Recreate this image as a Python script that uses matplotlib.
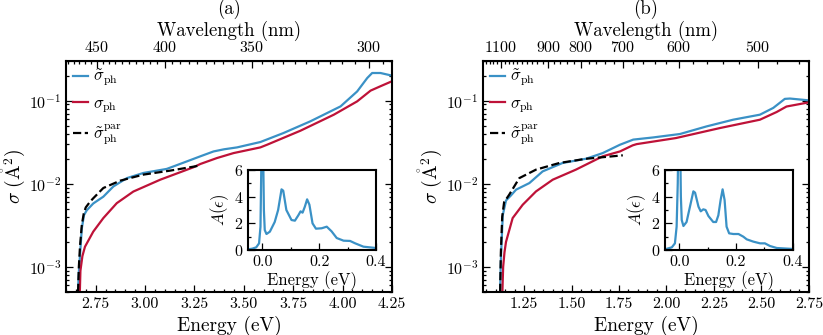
import numpy as np
import matplotlib
matplotlib.use('Agg')
from matplotlib import pyplot as plt
from matplotlib.ticker import MultipleLocator, FixedLocator, NullFormatter

plt.rcParams['font.family'] = 'serif'
plt.rcParams['font.serif'] = ['cmr10']
plt.rcParams['mathtext.fontset'] = 'cm'
plt.rcParams['axes.formatter.use_mathtext'] = True
plt.rcParams['axes.unicode_minus'] = False

HC = 1239.84  # eV nm
BLUE = '#3a91c6'
RED = '#be1238'

# ---- panel (a) ----
Ea_tilde = [2.661, 2.664, 2.671, 2.680, 2.691, 2.705, 2.738, 2.789, 2.840, 2.908, 2.992, 3.110,
            3.212, 3.280, 3.347, 3.400, 3.466, 3.584, 3.700, 3.837, 3.990, 4.074, 4.125, 4.150,
            4.192, 4.250]
sa_tilde = [5e-4, 8e-4, 1.4e-3, 2.9e-3, 4.2e-3, 4.8e-3, 5.8e-3, 7.0e-3, 9.3e-3, 0.0117, 0.0135,
            0.0151, 0.0186, 0.0214, 0.0245, 0.0260, 0.0274, 0.0318, 0.0407, 0.0564, 0.0853, 0.129,
            0.187, 0.215, 0.215, 0.200]
Ea_ph = [2.670, 2.673, 2.683, 2.696, 2.738, 2.789, 2.857, 2.941, 3.077, 3.245, 3.280, 3.364, 3.448,
         3.584, 3.618, 3.787, 3.956, 4.074, 4.142, 4.192, 4.250]
sa_ph = [5e-4, 9e-4, 1.35e-3, 1.75e-3, 2.66e-3, 3.87e-3, 5.85e-3, 8.07e-3, 0.0112, 0.0158, 0.0173,
         0.0204, 0.0234, 0.0274, 0.0295, 0.0435, 0.0678, 0.098, 0.132, 0.149, 0.171]
Ea_par = [2.661, 2.665, 2.671, 2.680, 2.690, 2.700, 2.722, 2.738, 2.789, 2.874, 2.992, 3.127, 3.254,
          3.270]
sa_par = [5e-4, 1e-3, 1.8e-3, 3.2e-3, 4.4e-3, 5.2e-3, 6.1e-3, 6.7e-3, 8.9e-3, 0.0109, 0.0129,
          0.0144, 0.0162, 0.0165]
eps_a = [-0.05, -0.035, -0.021, -0.011, -0.006, -0.002, 0.0, 0.003, 0.006, 0.009, 0.015, 0.027,
         0.044, 0.056, 0.068, 0.074, 0.085, 0.103, 0.115, 0.127, 0.135, 0.142, 0.150, 0.158,
         0.166, 0.177, 0.189, 0.209, 0.227, 0.244, 0.262, 0.286, 0.309, 0.327, 0.356, 0.400]
A_a = [0.05, 0.1, 0.2, 0.5, 1.75, 8, 15, 8, 3, 1.5, 1.2, 1.375, 2.1, 3.0, 4.55, 4.45, 3.0, 2.25,
       2.2, 2.6, 2.9, 2.8, 3.25, 3.8, 3.4, 2.0, 1.6, 1.63, 1.75, 1.4, 0.9, 0.7, 0.68, 0.5, 0.25,
       0.15]
wl_ticks_a = [450, 400, 350, 300]

# ---- panel (b) ----
Eb_tilde = [1.124, 1.127, 1.129, 1.138, 1.155, 1.180, 1.208, 1.278, 1.348, 1.453, 1.576, 1.664,
            1.755, 1.825, 1.930, 2.071, 2.211, 2.351, 2.492, 2.562, 2.623, 2.650, 2.746]
sb_tilde = [5e-4, 1e-3, 1.4e-3, 4.2e-3, 6.3e-3, 7.2e-3, 8.5e-3, 0.0102, 0.0141, 0.0178, 0.0200,
            0.0234, 0.0295, 0.0340, 0.0361, 0.0397, 0.0490, 0.0590, 0.0678, 0.0817, 0.105, 0.106,
            0.101]
Eb_ph = [1.136, 1.140, 1.147, 1.155, 1.190, 1.243, 1.313, 1.401, 1.523, 1.664, 1.755, 1.822, 1.843,
         2.050, 2.281, 2.492, 2.580, 2.632, 2.746]
sb_ph = [5e-4, 1e-3, 1.5e-3, 2.0e-3, 3.87e-3, 5.6e-3, 8.1e-3, 0.0112, 0.0148, 0.0214, 0.0245,
         0.0290, 0.0300, 0.0355, 0.0468, 0.0590, 0.0730, 0.0850, 0.0950]
Eb_par = [1.124, 1.128, 1.135, 1.145, 1.172, 1.225, 1.313, 1.436, 1.576, 1.743, 1.770]
sb_par = [5e-4, 1.5e-3, 4e-3, 6e-3, 7.4e-3, 0.0117, 0.0148, 0.0178, 0.0200, 0.0217, 0.0220]
eps_b = [-0.05, -0.026, -0.015, -0.009, -0.005, -0.002, 0.0, 0.003, 0.006, 0.009, 0.015, 0.026,
         0.038, 0.050, 0.056, 0.068, 0.076, 0.085, 0.093, 0.103, 0.120, 0.130, 0.138, 0.146,
         0.153, 0.160, 0.167, 0.176, 0.191, 0.209, 0.226, 0.238, 0.261, 0.285, 0.302, 0.320,
         0.344, 0.400]
A_b = [0.05, 0.2, 0.5, 1.75, 5, 10, 15, 9, 4, 2.25, 1.8, 2.1, 3.25, 4.4, 4.3, 3.25, 2.9, 3.05, 3.0,
       2.55, 2.1, 2.1, 2.6, 3.75, 4.55, 3.75, 1.75, 1.25, 1.2, 1.2, 1.0, 0.8, 0.63, 0.5, 0.5, 0.3,
       0.15, 0.08]
wl_ticks_b = [1100, 900, 800, 700, 600, 500]


def style(ax, fs=11.5):
    ax.tick_params(which='both', direction='in', top=False, right=True, labelsize=fs, width=0.9)
    ax.tick_params(which='major', length=5)
    ax.tick_params(which='minor', length=2.5)
    for s in ax.spines.values():
        s.set_linewidth(1.5)


def panel(fig, rect, irect, title, E1, s1, E2, s2, E3, s3, eps, A, xlim, wl_ticks, wl_minor):
    ax = fig.add_axes(rect)
    ax.plot(E1, s1, color=BLUE, lw=1.6, label=r'$\tilde{\sigma}_{\rm ph}$')
    ax.plot(E2, s2, color=RED, lw=1.6, label=r'$\sigma_{\rm ph}$')
    ax.plot(E3, s3, color='black', lw=1.6, ls='--', label=r'$\tilde{\sigma}_{\rm ph}^{\rm par}$')
    ax.set_yscale('log')
    ax.set_ylim(5e-4, 0.3)
    ax.set_xlim(*xlim)
    ax.xaxis.set_major_locator(MultipleLocator(0.25))
    ax.xaxis.set_minor_locator(MultipleLocator(0.05))
    ax.xaxis.set_major_formatter(matplotlib.ticker.FormatStrFormatter('%.2f'))
    style(ax)
    ax.set_xlabel('Energy (eV)', fontsize=14)
    ax.set_ylabel(r'$\sigma\ (\mathring{\rm A}^2)$', fontsize=14, labelpad=1)
    ax.legend(loc='upper left', frameon=False, fontsize=12, handlelength=0.9,
              handletextpad=0.3, labelspacing=0.45, borderaxespad=0.3, borderpad=0.1)

    sec = ax.secondary_xaxis('top', functions=(lambda x: HC / np.maximum(x, 1e-6),
                                               lambda x: HC / np.maximum(x, 1e-6)))
    sec.xaxis.set_major_locator(FixedLocator(wl_ticks))
    sec.xaxis.set_minor_locator(FixedLocator(wl_minor))
    sec.xaxis.set_minor_formatter(NullFormatter())
    sec.tick_params(which='both', direction='in', labelsize=11.5, width=0.9, pad=4)
    sec.tick_params(which='major', length=5)
    sec.tick_params(which='minor', length=2.5)
    sec.set_xlabel('Wavelength (nm)', fontsize=13.5, labelpad=3)
    fig.text(rect[0] + rect[2] / 2, 1 - 9 / 335, title, ha='center', va='center', fontsize=13.5)

    ins = fig.add_axes(irect)
    ins.plot(eps, A, color=BLUE, lw=1.6)
    ins.set_xlim(-0.05, 0.4)
    ins.set_ylim(0, 6)
    ins.xaxis.set_major_locator(MultipleLocator(0.2))
    ins.xaxis.set_minor_locator(MultipleLocator(0.1))
    ins.yaxis.set_major_locator(MultipleLocator(2))
    ins.yaxis.set_minor_locator(MultipleLocator(1))
    ins.xaxis.set_major_formatter(matplotlib.ticker.FormatStrFormatter('%.1f'))
    style(ins, fs=11.5)
    ins.tick_params(which='both', right=False)
    ins.set_xlabel('Energy (eV)', fontsize=12, labelpad=2)
    ins.set_ylabel(r'$A(\epsilon)$', fontsize=12, labelpad=2)
    return ax


fig = plt.figure(figsize=(8.23, 3.35), dpi=100)
panel(fig, [0.0802, 0.1284, 0.396, 0.6896], [0.3013, 0.2537, 0.1555, 0.2388], '(a)',
      Ea_tilde, sa_tilde, Ea_ph, sa_ph, Ea_par, sa_par, eps_a, A_a, (2.6, 4.25),
      wl_ticks_a, np.arange(290, 480, 5))
panel(fig, [0.5869, 0.1284, 0.396, 0.6896], [0.808, 0.2537, 0.1552, 0.2388], '(b)',
      Eb_tilde, sb_tilde, Eb_ph, sb_ph, Eb_par, sb_par, eps_b, A_b, (1.034, 2.75),
      wl_ticks_b, np.arange(440, 1220, 20))
fig.savefig('out.png', dpi=100)
